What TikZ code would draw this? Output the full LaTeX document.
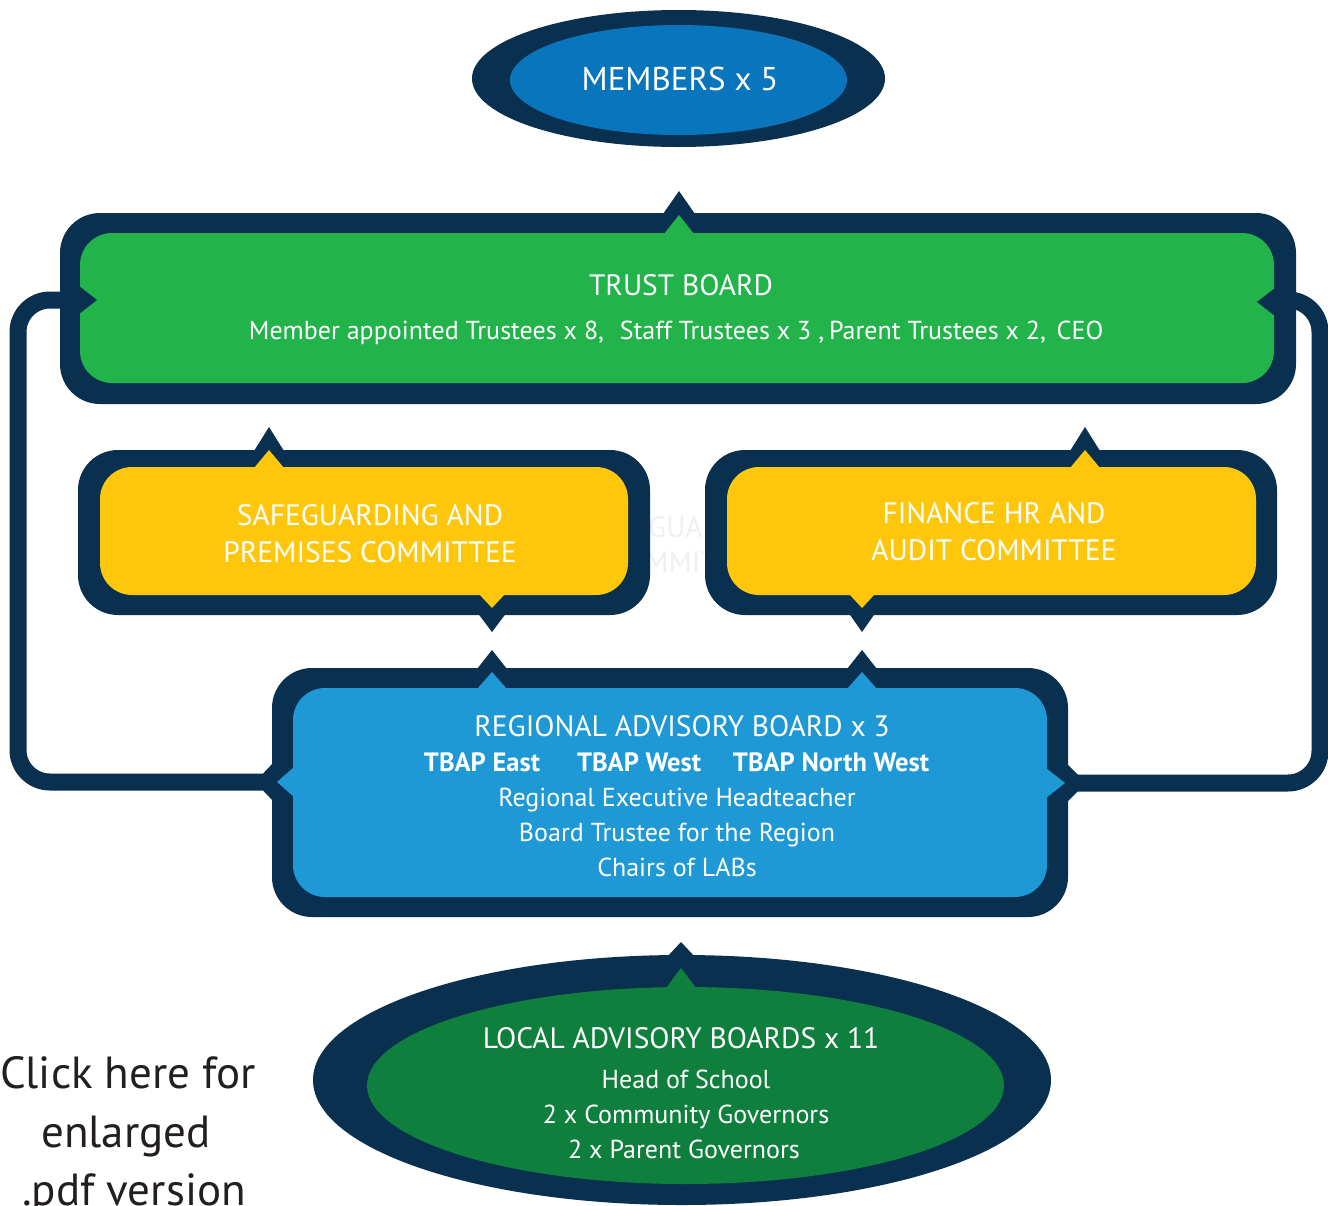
\documentclass[tikz,border=0pt]{standalone}
\usepackage{fontspec}
\setmainfont{PT Sans}
\usetikzlibrary{shapes.geometric}
\definecolor{navy}{HTML}{0A3050}
\definecolor{memblue}{HTML}{0875BC}
\definecolor{trustgreen}{HTML}{23B34B}
\definecolor{gold}{HTML}{FFC70C}
\definecolor{regblue}{HTML}{1F98D6}
\definecolor{localgreen}{HTML}{0F7F3E}
\definecolor{ink}{HTML}{231F20}
\tikzset{
  outerbox/.style={rectangle, rounded corners=40pt, fill=navy, draw=none, inner sep=0pt, outer sep=0pt},
  innerbox/.style={rectangle, rounded corners=32pt, draw=none, inner sep=0pt, outer sep=0pt},
  oval/.style={ellipse, draw=none, inner sep=0pt, outer sep=0pt},
  conn/.style={draw=navy, line width=17pt, rounded corners=32pt},
  ttl/.style={text=white, inner sep=0pt, anchor=base, font=\fontsize{29.5}{34}\selectfont},
  lbl/.style={text=white, inner sep=0pt, anchor=base, font=\fontsize{26}{30}\selectfont},
  bl/.style={text=white, inner sep=0pt, anchor=base, font=\fontsize{26.5}{30}\selectfont\bfseries},
  ghost/.style={text=black!6, inner sep=0pt, anchor=base west, font=\fontsize{29.5}{34}\selectfont},
  click/.style={text=ink, inner sep=0pt, anchor=base, font=\fontsize{45}{50}\selectfont},
}
\begin{document}
\begin{tikzpicture}[x=1pt,y=-1pt]
\clip (0,0) rectangle (1328,1205);
\fill[white] (0,0) rectangle (1328,1205);

% faint text showing through the gap
\node[ghost] (g1) at (648,537) {GUAR};
\node[ghost] (g2) at (645,572) {MMIT};

% members
\node[oval, fill=navy, minimum width=413pt, minimum height=137pt] (memo) at (678.5,78.5) {};
\node[oval, fill=memblue, minimum width=337pt, minimum height=110pt] (mem) at (678.5,80) {};
\node[text=white, inner sep=0pt, anchor=base, font=\fontsize{33}{38}\selectfont] (memt) at (680,90) {MEMBERS x 5};

% trust board
\node[outerbox, minimum width=1236pt, minimum height=191pt] (trust) at (678,308.5) {};
\node[innerbox, fill=trustgreen, minimum width=1194pt, minimum height=150pt] (trustin) at (677,308) {};

% safeguarding & finance
\node[outerbox, minimum width=572pt, minimum height=165pt] (safe) at (364,532.5) {};
\node[innerbox, fill=gold, minimum width=528pt, minimum height=128pt] (safein) at (364,531) {};
\node[outerbox, minimum width=572pt, minimum height=165pt] (fin) at (991,532.5) {};
\node[innerbox, fill=gold, minimum width=529pt, minimum height=128pt] (finin) at (991.5,531) {};

% regional
\node[outerbox, minimum width=796pt, minimum height=249pt] (reg) at (670,792.5) {};
\node[innerbox, fill=regblue, minimum width=754pt, minimum height=209pt] (regin) at (670,792.5) {};

% local
\node[oval, fill=navy, minimum width=738pt, minimum height=250pt] (loco) at (682,1080) {};
\node[oval, fill=localgreen, minimum width=637pt, minimum height=197pt] (loc) at (685.5,1085.5) {};

% connectors (loops from regional board to trust board)
\draw[conn] (reg.west |- 0,782) -- (18,782) -- (18,300) -- (trust.west |- 0,300);
\draw[conn] (reg.east |- 0,783) -- (1320,783) -- (1320,300) -- (trust.east |- 0,300);

% navy notches (outside)
\fill[navy] (663,214) -- (679,191) -- (695,214) -- cycle;
\fill[navy] (254,451) -- (269,427) -- (284,451) -- cycle;
\fill[navy] (1070,451) -- (1085,427) -- (1100,451) -- cycle;
\fill[navy] (477,612) -- (492,632) -- (507,612) -- cycle;
\fill[navy] (848,612) -- (862,632) -- (876,612) -- cycle;
\fill[navy] (477,669) -- (492,650) -- (507,669) -- cycle;
\fill[navy] (847,669) -- (862,650) -- (877,669) -- cycle;
\fill[navy] (274,762) -- (255,782) -- (274,802) -- cycle;
\fill[navy] (1066,763) -- (1086,783) -- (1066,803) -- cycle;
\fill[navy] (666,958) -- (681,942) -- (696,958) -- cycle;

% coloured notches (inside the navy band)
\fill[trustgreen] (664,234) -- (679,215) -- (694,234) -- cycle;
\fill[navy] (79,286) -- (97,300) -- (79,314) -- cycle;
\fill[navy] (1275,288) -- (1257,302) -- (1275,316) -- cycle;
\fill[gold] (254,468) -- (269,450) -- (284,468) -- cycle;
\fill[gold] (1070,468) -- (1085,450) -- (1100,468) -- cycle;
\fill[gold] (479,594) -- (492,608) -- (505,594) -- cycle;
\fill[gold] (849,594) -- (862,608) -- (875,594) -- cycle;
\fill[regblue] (477,689) -- (492,672) -- (507,689) -- cycle;
\fill[regblue] (847,689) -- (862,672) -- (877,689) -- cycle;
\fill[regblue] (294,767) -- (277,782) -- (294,797) -- cycle;
\fill[regblue] (1046,768) -- (1065,783) -- (1046,798) -- cycle;
\fill[localgreen] (666,988) -- (681,968) -- (696,988) -- cycle;

% texts
\node[ttl] (tb) at (681,295) {TRUST BOARD};
\node[lbl] (tb1) at (426.5,339) {Member appointed Trustees x 8,};
\node[lbl] (tb2) at (722,339) {Staff Trustees x 3 ,};
\node[lbl] (tb3) at (937.5,339) {Parent Trustees x 2,};
\node[lbl] (tb4) at (1080,339) {CEO};

\node[ttl] (s1) at (370,525) {SAFEGUARDING AND};
\node[ttl] (s2) at (370,562) {PREMISES COMMITTEE};
\node[ttl] (f1) at (994,523) {FINANCE HR AND};
\node[ttl] (f2) at (994,560) {AUDIT COMMITTEE};

\node[ttl] (r0) at (682,736) {REGIONAL ADVISORY BOARD x 3};
\node[bl] (r1) at (482,771) {TBAP East};
\node[bl] (r2) at (639,771) {TBAP West};
\node[bl] (r3) at (831,771) {TBAP North West};
\node[lbl] (r4) at (677,806) {Regional Executive Headteacher};
\node[lbl] (r5) at (677,841) {Board Trustee for the Region};
\node[lbl] (r6) at (677,876) {Chairs of LABs};

\node[ttl] (l0) at (681,1048) {LOCAL ADVISORY BOARDS x 11};
\node[lbl] (l1) at (686,1088) {Head of School};
\node[lbl] (l2) at (686,1123) {2 x Community Governors};
\node[lbl] (l3) at (684,1158) {2 x Parent Governors};

\node[click] (c1) at (128,1088) {Click here for};
\node[click] (c2) at (126,1147) {enlarged};
\node[click] (c3) at (134,1205) {.pdf version};
\end{tikzpicture}
\end{document}
